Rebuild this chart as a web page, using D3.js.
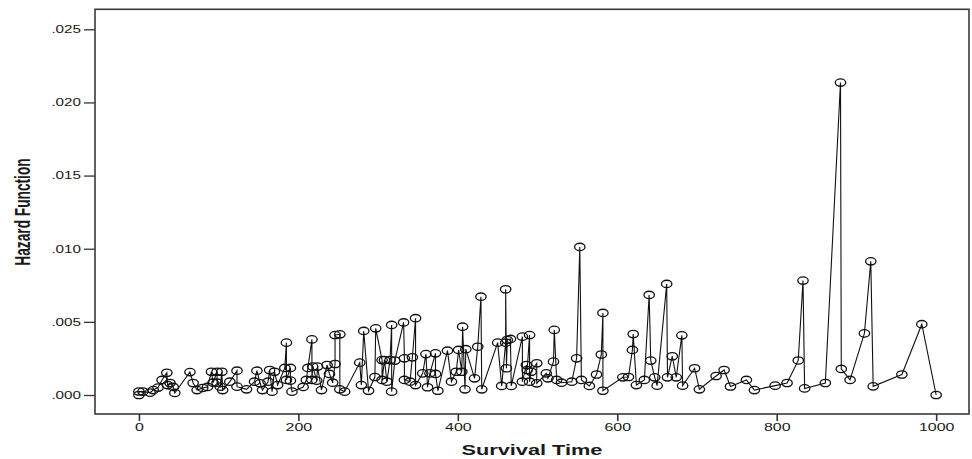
<!DOCTYPE html>
<html>
<head>
<meta charset="utf-8">
<script src="https://cdn.jsdelivr.net/npm/d3@7"></script>
<style>
  html, body { margin: 0; padding: 0; background: #fff; }
  svg { display: block; }
  text { font-family: "Liberation Sans", Arial, sans-serif; fill: #1a1a1a; }
</style>
</head>
<body>
<svg id="chart" width="972" height="459"></svg>
<script>
// Survival time of each case, in time order
const survivalTime = [
  0, 0, 5, 14, 18, 24, 29, 35, 36, 39, 43, 45, 64, 68, 73, 80, 86, 91, 93, 98,
  98, 102, 104, 105, 114, 123, 123, 135, 145, 148, 152, 155, 162, 164, 167, 170, 174,
  183, 185, 185, 190, 190, 192, 206, 210, 212, 217, 217, 218, 223, 224, 229, 236, 239,
  243, 246, 246, 252, 252, 258, 277, 279, 282, 288, 296, 297, 305, 305,
  308, 311, 315, 317, 317, 321, 332, 333, 333, 340, 343, 347, 347, 356, 360, 362,
  365, 372, 372, 375, 387, 392, 398, 401, 405, 406, 409, 410, 421, 425, 429, 430,
  450, 455, 460, 460, 461, 462, 466, 467,
  481, 481, 486, 487, 490, 490, 492, 499, 499, 511, 513, 520, 521, 524, 530, 543,
  549, 553, 555, 565, 574, 580, 582, 582, 607, 614, 619, 620, 624, 634, 640, 642,
  647, 650, 662, 663, 669, 674, 681, 682, 697, 703, 724, 734, 742, 762, 772, 798,
  813, 827, 833, 835, 861, 880, 881, 892, 910, 918, 921, 957, 982, 1000
];

// Hazard function value for each case
const hazard = [
  0.00000, 0.00024, 0.00023, 0.00016, 0.00034, 0.00051, 0.00103, 0.00152, 0.00068, 0.00082,
  0.00055, 0.00014, 0.00157, 0.00082, 0.00034, 0.00048, 0.00055, 0.00159, 0.00084, 0.00159,
  0.00084, 0.00057, 0.00159, 0.00034, 0.00091, 0.00166, 0.00057, 0.00039, 0.00091, 0.00166,
  0.00080, 0.00034, 0.00091, 0.00171, 0.00023, 0.00159, 0.00068,
  0.00185, 0.00358, 0.00103, 0.00185, 0.00098, 0.00023, 0.00055, 0.00103, 0.00185, 0.00380,
  0.00103, 0.00194, 0.00098, 0.00194, 0.00034, 0.00205, 0.00144, 0.00084, 0.00212, 0.00410,
  0.00415, 0.00039, 0.00023, 0.00221, 0.00068, 0.00438, 0.00029, 0.00123, 0.00456, 0.00239,
  0.00103,
  0.00239, 0.00091, 0.00239, 0.00479, 0.00023, 0.00235, 0.00496, 0.00251, 0.00103, 0.00091,
  0.00258, 0.00525, 0.00068, 0.00148, 0.00280, 0.00053, 0.00148, 0.00285, 0.00144, 0.00029,
  0.00303, 0.00091, 0.00159, 0.00308, 0.00159, 0.00467, 0.00039, 0.00313, 0.00114, 0.00330,
  0.00672, 0.00039,
  0.00358, 0.00062, 0.00358, 0.00723, 0.00183, 0.00376, 0.00383, 0.00062,
  0.00399, 0.00091, 0.00205, 0.00171, 0.00410, 0.00091, 0.00159, 0.00217, 0.00080, 0.00148,
  0.00114, 0.00228, 0.00445, 0.00103, 0.00084, 0.00091, 0.00251, 0.01012, 0.00103, 0.00062,
  0.00140, 0.00277, 0.00561, 0.00029, 0.00121, 0.00123, 0.00308, 0.00417, 0.00068, 0.00103,
  0.00684, 0.00235, 0.00121, 0.00064, 0.00759, 0.00121, 0.00265, 0.00121, 0.00408, 0.00064,
  0.00183, 0.00039, 0.00130, 0.00171, 0.00058, 0.00103, 0.00034, 0.00064, 0.00082, 0.00236,
  0.00782, 0.00045, 0.00082, 0.02136, 0.00178, 0.00103, 0.00421, 0.00914, 0.00059, 0.00140,
  0.00484, 0.00000
];

const xTicks = [0, 200, 400, 600, 800, 1000];
const yTicks = [0, 0.005, 0.010, 0.015, 0.020, 0.025];

const xTitle = "Survival Time";
const yTitle = "Hazard Function";

// Text in this chart is drawn wide, so labels get a horizontal stretch
const stretch = 1.45;

const svg = d3.select("#chart");
const frame = { left: 95, right: 969, top: 9.3, bottom: 414 };

const x = d3.scaleLinear().domain([-55.1, 1041.2]).range([frame.left, frame.right]);
const y = d3.scaleLinear().domain([-0.0012989, 0.026367]).range([frame.bottom, frame.top]);

// Plot frame
svg.append("rect")
  .attr("x", frame.left).attr("y", frame.top)
  .attr("width", frame.right - frame.left).attr("height", frame.bottom - frame.top)
  .attr("fill", "#fff").attr("stroke", "#3a3a3a").attr("stroke-width", 1.6);

// Y axis
const yAxis = svg.append("g")
  .attr("transform", `translate(${frame.left},0)`)
  .call(d3.axisLeft(y).tickValues(yTicks).tickSize(11).tickPadding(2)
    .tickFormat(d => d3.format(".3f")(d).replace(/^0/, "")));
yAxis.select(".domain").remove();
yAxis.selectAll(".tick line").attr("stroke", "#333").attr("stroke-width", 1.3);
yAxis.selectAll(".tick text")
  .attr("x", -14 / stretch)
  .attr("transform", `scale(${stretch},1)`)
  .style("font-size", "10.5px")
  .style("fill", "#1a1a1a");

// X axis
const xAxis = svg.append("g")
  .attr("transform", `translate(0,${frame.bottom})`)
  .call(d3.axisBottom(x).tickValues(xTicks).tickSize(7).tickPadding(2).tickFormat(d3.format("d")));
xAxis.select(".domain").remove();
xAxis.selectAll(".tick line").attr("stroke", "#333").attr("stroke-width", 1.6);
xAxis.selectAll(".tick text")
  .attr("x", 0)
  .attr("transform", `scale(${stretch},1)`)
  .style("font-size", "11px")
  .style("fill", "#1a1a1a");

// Axis titles
svg.append("text")
  .attr("transform", `scale(${stretch},1)`)
  .attr("x", 532 / stretch).attr("y", 455)
  .attr("text-anchor", "middle")
  .style("font-size", "15px").style("font-weight", "bold")
  .text(xTitle);

svg.append("text")
  .attr("transform", `translate(30,212) rotate(-90) scale(1,1.55)`)
  .attr("text-anchor", "middle")
  .style("font-size", "13.7px").style("font-weight", "bold")
  .text(yTitle);

// Hazard series: a line through the cases in time order, with open markers
const points = survivalTime.map((t, i) => ({ t, h: hazard[i] }));

svg.append("path")
  .datum(points)
  .attr("fill", "none")
  .attr("stroke", "#111")
  .attr("stroke-width", 1.1)
  .attr("d", d3.line().x(d => x(d.t)).y(d => y(d.h)));

svg.append("g")
  .selectAll("ellipse")
  .data(points)
  .join("ellipse")
  .attr("cx", d => x(d.t))
  .attr("cy", d => y(d.h))
  .attr("rx", 5.2)
  .attr("ry", 3.7)
  .attr("fill", "none")
  .attr("stroke", "#111")
  .attr("stroke-width", 1.3);
</script>
</body>
</html>
